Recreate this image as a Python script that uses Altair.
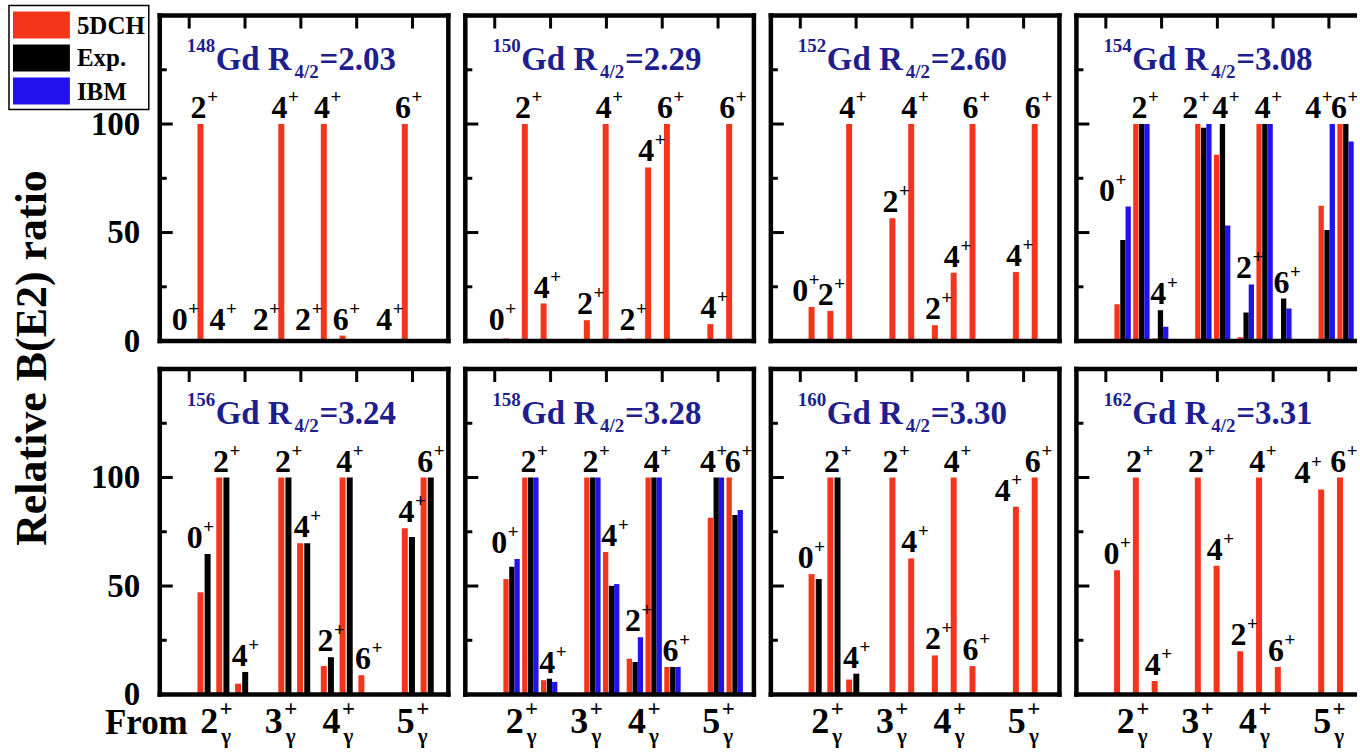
import altair as alt
import pandas as pd

FONT = "Liberation Serif"

# ---------------- data ----------------
SERIES = ["5DCH", "Exp.", "IBM"]
COLORS = ["#F5341C", "#000000", "#2212EE"]
TITLE_COLOR = "#1E1E8E"

NUCLEI = ["148", "150", "152", "154", "156", "158", "160", "162"]
R42 = ["2.03", "2.29", "2.60", "3.08", "3.24", "3.28", "3.30", "3.31"]

# initial gamma-band states J_gamma^+ and the ground-band final states of each
BANDS = ["2", "3", "4", "5"]
FINALS = [["0", "2", "4"], ["2", "4"], ["2", "4", "6"], ["4", "6"]]

# relative B(E2) values, ordered 2g->0,2,4 | 3g->2,4 | 4g->2,4,6 | 5g->4,6
DCH = {
    "148": [0, 100, 1, 0, 100, 0, 100, 2.5, 0, 100],
    "150": [1.2, 100, 17.3, 9.6, 100, 1.2, 80, 100, 7.8, 100],
    "152": [15.7, 13.9, 100, 56.6, 100, 7.3, 31.5, 100, 31.8, 100],
    "154": [17, 100, 1.2, 100, 85.8, 1.7, 100, 1.0, 62.4, 100],
    "156": [47.1, 100, 5, 100, 69.7, 13.1, 100, 8.9, 76.6, 100],
    "158": [53.2, 100, 6.6, 100, 65.7, 16.5, 100, 12.7, 81.5, 100],
    "160": [55.5, 100, 6.9, 100, 62.7, 18, 100, 13.1, 86.5, 100],
    "162": [57.3, 100, 6.2, 100, 59.3, 19.9, 100, 12.7, 94.5, 100],
}
EXP = {
    "154": [46.6, 100, 14.2, 98.3, 100, 13.2, 100, 19.6, 51.2, 100],
    "156": [64.7, 100, 10.4, 100, 69.7, 17.2, 100, 0, 72.6, 100],
    "158": [58.9, 100, 7.3, 100, 50.1, 15, 100, 12.7, 100, 82.7],
    "160": [53.2, 100, 9.6, None, None, None, None, None, None, None],
}
IBM = {
    "154": [62, 100, 6.6, 100, 53.2, 26.1, 100, 15, 100, 91.9],
    "158": [62.4, 100, 5.8, 100, 50.9, 26.4, 100, 12.7, 100, 85],
}
SERIES_DATA = {"5DCH": DCH, "Exp.": EXP, "IBM": IBM}

# ---------------- layout ----------------
SLOT = 19.5                      # px per slot unit on the x scale
W_FULL, W_EDGE, H = 289, 281, 326
GROUP_START = [1.9, 6.2, 8.46, 12.77]
SHIFT = {"148": -1.0}
OFFSETS = {1: [0.0], 2: [0.0, 0.38], 3: [0.0, 0.31, 0.59]}
BAR_W = {1: 6, 2: 6, 3: 5.3}
TOP_TICKS = [1.3, 4.27, 7.24, 10.21, 13.18]
BAND_LABEL_AT = [2.36, 5.8, 8.87, 12.82]
# label nudges (slot units) where the labels sit beside crowded bars
FIRST_LABEL_NUDGE = -0.4
LABEL_NUDGE = {("148", 0): 0.0, ("162", 0): -0.2,
               ("154", 0): -0.73, ("158", 0): -0.56, ("154", 3): -0.6, ("154", 8): -0.62,
               ("154", 9): -0.25, ("158", 8): -0.32, ("152", 0): -0.5, ("152", 1): -0.15,
               ("162", 8): -0.9, ("160", 8): -0.6}


def one():
    return pd.DataFrame({"k": [0]})


def vtext(txt, x, y, size, color="black", align="left", baseline="alphabetic", angle=0):
    return alt.Chart(one()).mark_text(
        text=txt, font=FONT, fontSize=size, fontWeight="bold", color=color,
        align=align, baseline=baseline, angle=angle,
    ).encode(x=alt.value(x), y=alt.value(y))


def vrule(x, x2, y, y2, width):
    return alt.Chart(one()).mark_rule(color="black", strokeWidth=width, strokeCap="butt").encode(
        x=alt.value(x), x2=alt.value(x2), y=alt.value(y), y2=alt.value(y2)
    )


def vrect(x, x2, y, y2, fill, stroke=None, sw=0):
    kw = dict(fill=fill)
    if stroke is not None:
        kw.update(stroke=stroke, strokeWidth=sw)
    return alt.Chart(one()).mark_rect(**kw).encode(
        x=alt.value(x), x2=alt.value(x2), y=alt.value(y), y2=alt.value(y2)
    )


def panel(i):
    nuc = NUCLEI[i]
    col, row = i % 4, i // 4
    W = W_EDGE if col == 3 else W_FULL
    clip = col == 3
    xs = alt.Scale(domain=[0, W / SLOT], nice=False, zero=False)
    ys = alt.Scale(domain=[0, 150], nice=False)
    if col == 0:
        yaxis = alt.Axis(values=[0, 50, 100], ticks=False, domain=False, grid=False,
                         labelFont=FONT, labelFontSize=33, labelFontWeight="bold",
                         labelColor="black", labelPadding=20, title=None)
    else:
        yaxis = None

    present = [(s, SERIES_DATA[s][nuc]) for s in SERIES if nuc in SERIES_DATA[s]]
    n = len(present)
    offs = OFFSETS[n]
    rows, labels = [], []
    k = 0
    for g, finals in enumerate(FINALS):
        for j, f in enumerate(finals):
            base = GROUP_START[g] + j + SHIFT.get(nuc, 0.0)
            vmax, cnt = 0.0, 0
            for si, (s, vals) in enumerate(present):
                v = vals[k]
                if v is None:
                    continue
                rows.append({"series": s, "x": base + offs[si], "value": v})
                vmax = max(vmax, v)
                cnt += 1
            nudge = LABEL_NUDGE.get((nuc, k), FIRST_LABEL_NUDGE if k == 0 else 0.0)
            labels.append({"state": f, "x": base + offs[cnt - 1] / 2 - 0.1 + nudge,
                           "y": max(vmax, 2.3)})
            k += 1
    bdf = pd.DataFrame(rows)
    ldf = pd.DataFrame(labels)

    layers = []
    layers.append(
        alt.Chart(bdf).mark_bar(size=BAR_W[n], clip=clip, orient="vertical").encode(
            x=alt.X("x:Q", scale=xs, axis=None),
            y=alt.Y("value:Q", scale=ys, axis=yaxis, stack=False),
            color=alt.Color("series:N", scale=alt.Scale(domain=SERIES, range=COLORS), legend=None),
        )
    )
    layers.append(
        alt.Chart(ldf).mark_text(font=FONT, fontSize=32, fontWeight="bold", color="black",
                                 align="center", baseline="alphabetic", dy=-6, clip=clip).encode(
            x=alt.X("x:Q", scale=xs, axis=None),
            y=alt.Y("y:Q", scale=ys, axis=yaxis),
            text="state:N",
        )
    )
    layers.append(
        alt.Chart(ldf).mark_text(text="+", font=FONT, fontSize=19, fontWeight="bold", color="black",
                                 align="center", baseline="middle", dx=14, dy=-27, clip=clip).encode(
            x=alt.X("x:Q", scale=xs, axis=None),
            y=alt.Y("y:Q", scale=ys, axis=yaxis),
        )
    )
    # inward ticks
    layers.append(
        alt.Chart(pd.DataFrame({"t": [0, 50, 100]})).mark_rule(color="black", strokeWidth=3).encode(
            y=alt.Y("t:Q", scale=ys, axis=yaxis), x=alt.value(0), x2=alt.value(13))
    )
    layers.append(
        alt.Chart(pd.DataFrame({"t": [25, 75, 125]})).mark_rule(color="black", strokeWidth=3).encode(
            y=alt.Y("t:Q", scale=ys, axis=yaxis), x=alt.value(0), x2=alt.value(7))
    )
    layers.append(
        alt.Chart(pd.DataFrame({"t": TOP_TICKS})).mark_rule(color="black", strokeWidth=3).encode(
            x=alt.X("t:Q", scale=xs, axis=None), y=alt.value(0), y2=alt.value(13))
    )
    # frame
    fw = 4.5
    right_end = W if col == 3 else W + fw / 2
    layers.append(vrule(0, 0, -fw / 2, H + fw / 2, fw))
    layers.append(vrule(-fw / 2, right_end, 0, 0, fw))
    layers.append(vrule(-fw / 2, right_end, H, H, fw))
    if col != 3:
        layers.append(vrule(W, W, -fw / 2, H + fw / 2, fw))
    # panel title
    layers.append(vtext(nuc, 27, 37, 19, TITLE_COLOR))
    layers.append(vtext("Gd R", 56, 55, 33, TITLE_COLOR))
    layers.append(vtext("4/2", 135, 63, 19, TITLE_COLOR))
    layers.append(vtext("=" + R42[i], 160, 55, 33, TITLE_COLOR))

    if row == 1:
        gdf = pd.DataFrame({"g": BANDS, "x": BAND_LABEL_AT})
        layers.append(
            alt.Chart(gdf).mark_text(font=FONT, fontSize=36, fontWeight="bold", color="black",
                                     align="center", baseline="alphabetic").encode(
                x=alt.X("x:Q", scale=xs, axis=None), y=alt.value(H + 39), text="g:N")
        )
        layers.append(
            alt.Chart(gdf).mark_text(text="+", font=FONT, fontSize=23, fontWeight="bold", color="black",
                                     align="center", baseline="middle", dx=17).encode(
                x=alt.X("x:Q", scale=xs, axis=None), y=alt.value(H + 15))
        )
        layers.append(
            alt.Chart(gdf).mark_text(text="γ", font=FONT, fontSize=21, fontWeight="bold", color="black",
                                     align="center", baseline="alphabetic", dx=17).encode(
                x=alt.X("x:Q", scale=xs, axis=None), y=alt.value(H + 49))
        )

    if i == 0:
        # legend box
        layers.append(vrect(-151, -11, -10, 94, "white", "black", 1.5))
        base_y = [-4, 29, 62]
        text_y = [18.5, 50.5, 84.5]
        for s, c, by, ty in zip(SERIES, COLORS, base_y, text_y):
            layers.append(vrect(-147, -90, by, by + 27, c))
            layers.append(vtext(s, -83, ty, 25))
    if i == 4:
        layers.append(vtext("Relative B(E2) ratio", -126.5, -11, 44, align="center",
                            baseline="middle", angle=270))
        layers.append(vtext("From", 28, H + 40, 35, align="right"))

    return alt.layer(*layers).properties(width=W, height=H)


panels = [panel(i) for i in range(8)]

chart = (
    alt.concat(*panels, columns=4, spacing={"row": 28, "column": 17}, bounds="flush", align="each")
    .resolve_scale(x="independent", y="independent")
    .configure_view(strokeWidth=0)
    .properties(padding={"left": 8, "top": 4, "right": 0, "bottom": 0}, background="white")
)

chart.save("out.html", embed_options={"renderer": "svg", "actions": False})
